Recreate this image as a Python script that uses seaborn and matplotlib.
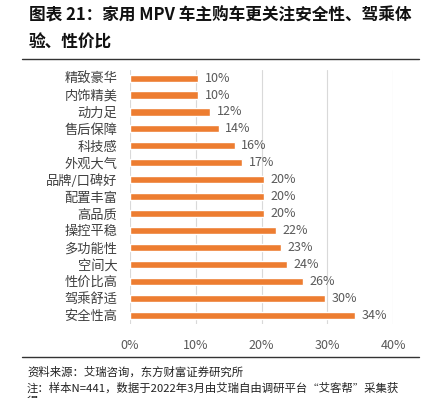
import matplotlib
matplotlib.use('Agg')
import matplotlib.pyplot as plt
import seaborn as sns
import pandas as pd

categories = ['精致豪华', '内饰精美', '动力足', '售后保障', '科技感', '外观大气', '品牌/口碑好',
              '配置丰富', '高品质', '操控平稳', '多功能性', '空间大', '性价比高', '驾乘舒适', '安全性高']
values = [0.104, 0.104, 0.122, 0.135, 0.159, 0.170, 0.204, 0.204, 0.204, 0.222, 0.229, 0.238, 0.263, 0.297, 0.342]
labels = ['10%', '10%', '12%', '14%', '16%', '17%', '20%', '20%', '20%', '22%', '23%', '24%', '26%', '30%', '34%']
xticks = [0, 0.1, 0.2, 0.3, 0.4]
xticklabels = ['0%', '10%', '20%', '30%', '40%']

sns.set_theme(style='white')
plt.rcParams['font.family'] = ['Noto Sans CJK SC', 'DejaVu Sans']

df = pd.DataFrame({'cat': categories, 'val': values})

fig = plt.figure(figsize=(4.36, 3.98), dpi=100)
ax = fig.add_axes([0.298, 0.187, 0.604, 0.638])
for x in xticks:
    ax.axvline(x, color='#d9d9d9', lw=0.8, zorder=0)
sns.barplot(data=df, x='val', y='cat', color='#ED7D31', saturation=1, width=0.42, ax=ax, zorder=2)
for i, (v, lab) in enumerate(zip(values, labels)):
    ax.text(v + 0.01, i, lab, va='center', ha='left', fontsize=9, color='#595959')

ax.set_xlim(0, 0.4)
ax.set_xticks(xticks)
ax.set_xticklabels(xticklabels, fontsize=9, color='#595959')
ax.set_yticks(range(len(categories)))
ax.set_yticklabels(categories, fontsize=9.5, color='#404040')
ax.set_xlabel('')
ax.set_ylabel('')
ax.tick_params(axis='y', length=0, pad=9)
ax.tick_params(axis='x', length=0, pad=11)
for s in ax.spines.values():
    s.set_visible(False)

fig.text(0.066, 0.962, '图表 21：家用 MPV 车主购车更关注安全性、驾乘体', fontsize=12, fontweight='bold', va='center', color='#111111')
fig.text(0.066, 0.893, '验、性价比', fontsize=12, fontweight='bold', va='center', color='#111111')
fig.add_artist(plt.Line2D([0.05, 0.96], [0.853, 0.853], color='#333333', lw=1))
fig.add_artist(plt.Line2D([0.05, 0.96], [0.103, 0.103], color='#333333', lw=1))
fig.text(0.062, 0.065, '资料来源：艾瑞咨询，东方财富证券研究所', fontsize=8.2, va='center', color='#222222')
fig.text(0.062, 0.025, '注：样本N=441，数据于2022年3月由艾瑞自由调研平台“艾客帮”采集获', fontsize=8.2, va='center', color='#222222')
fig.text(0.062, -0.01, '得', fontsize=8.2, va='center', color='#222222')

fig.savefig('out.png', dpi=100)
